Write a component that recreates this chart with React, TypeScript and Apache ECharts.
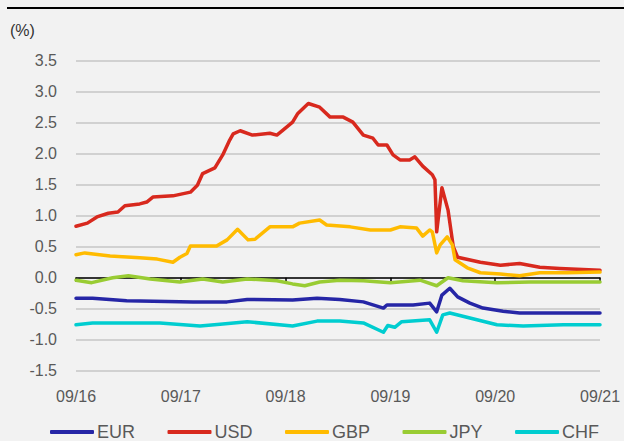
import React, { useEffect, useRef } from "react";
import * as echarts from "echarts";

// x = months since 09/2016, y = %
const xLabels = ["09/16", "09/17", "09/18", "09/19", "09/20", "09/21"];
const seriesNames = ["EUR", "USD", "GBP", "JPY", "CHF"];

const eurData: number[][] = [
  [0, -0.33], [1.9, -0.33], [5.8, -0.37], [13.4, -0.39], [17.3, -0.39], [19.6, -0.35],
  [24.8, -0.36], [27.6, -0.33], [30.2, -0.35], [32.9, -0.39], [35.2, -0.49], [35.6, -0.44],
  [38.6, -0.44], [40.5, -0.41], [41.3, -0.55], [41.9, -0.28], [42.8, -0.17], [43.7, -0.31],
  [45.1, -0.41], [46.6, -0.49], [48.9, -0.54], [50.8, -0.57], [53.5, -0.57], [60, -0.57],
];

const usdData: number[][] = [
  [0, 0.83], [1.3, 0.88], [2.4, 0.98], [3.7, 1.04], [4.8, 1.06], [5.6, 1.16], [7.3, 1.19],
  [8.1, 1.22], [8.8, 1.3], [11.1, 1.32], [13.1, 1.38], [13.9, 1.49], [14.5, 1.68], [15.9, 1.77],
  [16.8, 1.98], [17.6, 2.22], [18.0, 2.32], [18.8, 2.37], [20.2, 2.3], [22.2, 2.33], [23.0, 2.3],
  [23.7, 2.38], [24.8, 2.51], [25.4, 2.65], [26.6, 2.81], [27.9, 2.75], [29.1, 2.59], [30.6, 2.59],
  [31.7, 2.51], [32.9, 2.3], [34.0, 2.25], [34.6, 2.14], [35.6, 2.14], [36.3, 1.98], [37.1, 1.9],
  [38.2, 1.9], [38.8, 1.95], [39.7, 1.8], [40.8, 1.66], [41.1, 1.58], [41.3, 0.74], [41.9, 1.45],
  [42.6, 1.09], [43.2, 0.5], [43.7, 0.33], [46.3, 0.25], [48.6, 0.2], [50.8, 0.23], [53.1, 0.17],
  [55.4, 0.15], [60, 0.12],
];

const gbpData: number[][] = [
  [0, 0.37], [1.0, 0.4], [3.9, 0.35], [7.3, 0.32], [9.3, 0.3], [11.1, 0.25], [11.9, 0.33],
  [12.7, 0.39], [13.1, 0.51], [16.1, 0.51], [17.3, 0.61], [18.5, 0.78], [19.7, 0.61], [20.5, 0.62],
  [22.2, 0.82], [24.8, 0.82], [25.6, 0.88], [27.9, 0.93], [28.7, 0.85], [31.4, 0.82], [33.7, 0.77],
  [36.0, 0.77], [37.1, 0.82], [39.0, 0.8], [39.7, 0.67], [40.5, 0.77], [40.8, 0.74], [41.3, 0.4],
  [41.7, 0.53], [42.5, 0.66], [43.1, 0.53], [43.4, 0.29], [44.8, 0.16], [46.3, 0.08], [48.6, 0.06],
  [50.8, 0.03], [53.1, 0.08], [56.2, 0.08], [60, 0.09],
];

const jpyData: number[][] = [
  [0, -0.04], [1.8, -0.08], [4.2, 0.0], [6.0, 0.03], [8.5, -0.02], [11.9, -0.07], [14.5, -0.02],
  [16.8, -0.07], [19.6, -0.02], [23.0, -0.05], [24.8, -0.1], [26.2, -0.13], [27.9, -0.07],
  [30.2, -0.04], [32.9, -0.05], [36.0, -0.08], [39.4, -0.04], [41.3, -0.13], [42.6, 0.0],
  [44.3, -0.05], [48.2, -0.08], [52.0, -0.07], [55.8, -0.07], [60, -0.07],
];

const chfData: number[][] = [
  [0, -0.76], [1.9, -0.73], [9.6, -0.73], [14.2, -0.78], [16.5, -0.75], [19.6, -0.71],
  [24.8, -0.78], [27.6, -0.7], [30.2, -0.7], [32.9, -0.73], [35.2, -0.88], [35.7, -0.77],
  [36.5, -0.8], [37.3, -0.71], [40.5, -0.68], [41.3, -0.88], [42.0, -0.6], [42.8, -0.57],
  [45.1, -0.65], [48.2, -0.76], [51.2, -0.78], [55.8, -0.76], [60, -0.76],
];

const seriesData = [eurData, usdData, gbpData, jpyData, chfData];
const colors = ["#2626a6", "#d8291e", "#ffbb00", "#99cc33", "#00cdd0"];

const FONT = "'Liberation Sans', Arial, sans-serif";

export default function App() {
  const ref = useRef<HTMLDivElement>(null);
  useEffect(() => {
    document.body.style.margin = "0";
    if (!ref.current) return;
    const chart = echarts.init(ref.current, undefined, { renderer: "svg" });
    chart.setOption({
      animation: false,
      backgroundColor: "#f2f2f2",
      textStyle: { fontFamily: FONT },
      grid: { left: 76, right: 24, top: 60.7, bottom: 70.3, containLabel: false },
      graphic: [
        {
          type: "line",
          shape: { x1: 7, y1: 8, x2: 624, y2: 8 },
          style: { stroke: "#000", lineWidth: 2 },
        },
        {
          type: "text",
          left: 10,
          top: 22,
          style: { text: "(%)", fontSize: 16, fill: "#333", fontFamily: FONT },
        },
      ],
      legend: {
        left: 50,
        top: 423,
        icon: "roundRect",
        itemWidth: 44,
        itemHeight: 4,
        itemGap: 32.5,
        padding: 0,
        textStyle: {
          fontSize: 18,
          lineHeight: 17,
          color: "#595959",
          fontFamily: FONT,
          padding: [0, 0, 0, -2],
        },
        data: seriesNames,
      },
      xAxis: [
        {
          type: "value",
          min: 0,
          max: 60,
          interval: 12,
          position: "bottom",
          axisLine: { show: false, onZero: false },
          axisTick: { show: false },
          splitLine: { show: false },
          axisLabel: {
            fontSize: 16,
            color: "#595959",
            margin: 18,
            fontFamily: FONT,
            formatter: (v: number) => xLabels[Math.round(v / 12)] ?? "",
          },
        },
        {
          type: "value",
          min: 0,
          max: 60,
          interval: 12,
          position: "bottom",
          axisLine: { show: true, onZero: true, lineStyle: { color: "#000", width: 1.5 } },
          axisTick: { show: true, length: 4, lineStyle: { color: "#000", width: 1.5 } },
          splitLine: { show: false },
          axisLabel: { show: false },
        },
      ],
      yAxis: {
        type: "value",
        min: -1.5,
        max: 3.5,
        interval: 0.5,
        axisLine: { show: false },
        axisTick: { show: false },
        splitLine: { lineStyle: { color: "#c6c6c6", width: 1.5 } },
        axisLabel: {
          fontSize: 16,
          color: "#595959",
          margin: 19,
          fontFamily: FONT,
          formatter: (v: number) => v.toFixed(1),
        },
      },
      series: seriesNames.map((name, i) => ({
        name,
        type: "line",
        xAxisIndex: 0,
        data: seriesData[i],
        symbol: "none",
        color: colors[i],
        lineStyle: { color: colors[i], width: 3.5, cap: "round", join: "round" },
      })),
    });
    return () => chart.dispose();
  }, []);
  return <div ref={ref} style={{ width: 624, height: 441 }} />;
}
